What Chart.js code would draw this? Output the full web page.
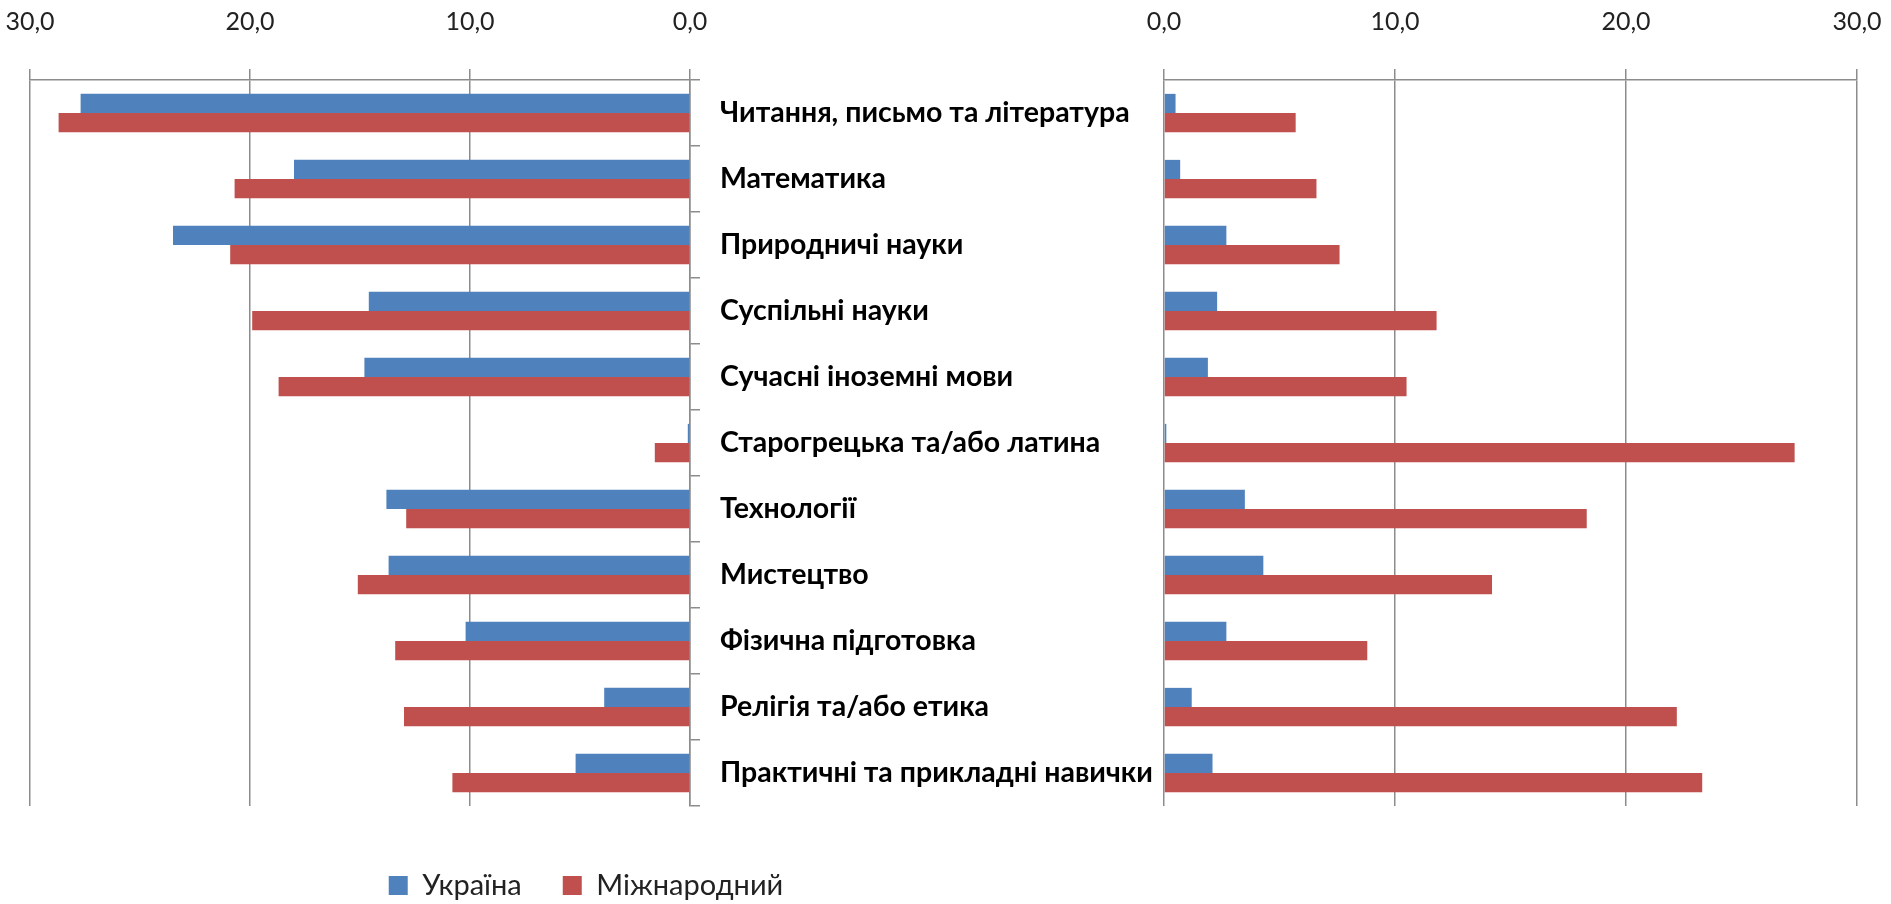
<!DOCTYPE html>
<html>
<head>
<meta charset="utf-8">
<title>Предмети: Україна та міжнародний показник</title>
<script src="https://cdn.jsdelivr.net/npm/chart.js@4.4.0/dist/chart.umd.min.js"></script>
<style>
  html, body { margin: 0; padding: 0; background: #fff; }
  #wrap { position: relative; width: 1891px; height: 904px; overflow: hidden; }
  #rightBox { position: absolute; left: 700px; top: 0; width: 1191px; height: 904px; }
  #leftBox { position: absolute; left: 0; top: 0; width: 1142px; height: 904px; }
</style>
</head>
<body>
<div id="wrap">
  <div id="rightBox"><canvas id="rightChart"></canvas></div>
  <div id="leftBox"><canvas id="leftChart"></canvas></div>
</div>
<script>
// Chart data
const subjects = [
  'Читання, письмо та література',
  'Математика',
  'Природничі науки',
  'Суспільні науки',
  'Сучасні іноземні мови',
  'Старогрецька та/або латина',
  'Технології',
  'Мистецтво',
  'Фізична підготовка',
  'Релігія та/або етика',
  'Практичні та прикладні навички'
];
const seriesNames = ['Україна', 'Міжнародний'];

// left panel
const ukraineLeft = [27.7, 18.0, 23.5, 14.6, 14.8, 0.1, 13.8, 13.7, 10.2, 3.9, 5.2];
const intlLeft = [28.7, 20.7, 20.9, 19.9, 18.7, 1.6, 12.9, 15.1, 13.4, 13.0, 10.8];

// right panel
const ukraineRight = [0.5, 0.7, 2.7, 2.3, 1.9, 0.1, 3.5, 4.3, 2.7, 1.2, 2.1];
const intlRight = [5.7, 6.6, 7.6, 11.8, 10.5, 27.3, 18.3, 14.2, 8.8, 22.2, 23.3];

const axisTicks = [0, 10, 20, 30];

// Styles
const BLUE = '#4F81BD';
const RED = '#C0504D';
const GRID = '#8c8c8c';
const FONT = 'Lato, "Liberation Sans Narrow", "Liberation Sans", sans-serif';

const fmt = v => v.toFixed(1).replace('.', ',');

function valueAxis(reverse) {
  return {
    position: 'top',
    reverse: reverse,
    min: 0,
    max: 30,
    afterBuildTicks: s => { s.ticks = axisTicks.map(v => ({ value: v })); },
    afterFit: s => {
      s.height = 80;
      // tick padding is vertical here, don't let it eat horizontal room
      s.paddingLeft = 0;
      s.paddingRight = 0;
    },
    ticks: {
      callback: v => fmt(v),
      font: { family: FONT, size: 25 },
      color: '#222',
      padding: 32,
      maxRotation: 0
    },
    grid: { color: GRID, lineWidth: 1.5, tickLength: 11 },
    border: { color: GRID, width: 1.5 }
  };
}

function makeDatasets(ua, intl) {
  return [
    { label: seriesNames[0], data: ua, backgroundColor: BLUE },
    { label: seriesNames[1], data: intl, backgroundColor: RED }
  ];
}

// pushes the legend down without shrinking the plot
const legendDrop = {
  id: 'legendDrop',
  afterLayout(chart, args, opts) {
    const lg = chart.legend;
    if (!lg) return;
    lg.top += opts.offset;
    lg.bottom += opts.offset;
  }
};

new Chart(document.getElementById('leftChart'), {
  type: 'bar',
  data: { labels: subjects, datasets: makeDatasets(ukraineLeft, intlLeft) },
  options: {
    indexAxis: 'y',
    responsive: true,
    maintainAspectRatio: false,
    animation: false,
    layout: { padding: { left: 30, right: 0, top: 0, bottom: 18 } },
    datasets: { bar: { categoryPercentage: 0.58, barPercentage: 1 } },
    scales: {
      x: valueAxis(true),
      y: {
        position: 'right',
        ticks: { display: false },
        grid: { drawOnChartArea: false, color: GRID, lineWidth: 1.5, tickLength: 10 },
        border: { color: GRID, width: 1.5 },
        afterFit: s => { s.width = 452; }
      }
    },
    plugins: {
      legend: {
        position: 'bottom',
        labels: {
          boxWidth: 19,
          boxHeight: 19,
          padding: 41,
          color: '#222',
          font: { family: FONT, size: 29 }
        }
      },
      legendDrop: { offset: 24 },
      tooltip: { enabled: false }
    }
  },
  plugins: [legendDrop]
});

new Chart(document.getElementById('rightChart'), {
  type: 'bar',
  data: { labels: subjects, datasets: makeDatasets(ukraineRight, intlRight) },
  options: {
    indexAxis: 'y',
    responsive: true,
    maintainAspectRatio: false,
    animation: false,
    layout: { padding: { left: 20, right: 34, top: 0, bottom: 98 } },
    datasets: { bar: { categoryPercentage: 0.58, barPercentage: 1 } },
    scales: {
      x: valueAxis(false),
      y: {
        position: 'left',
        ticks: {
          crossAlign: 'far',
          padding: 0,
          color: '#000',
          font: { family: FONT, size: 28.5, weight: 'bold' }
        },
        grid: { display: false },
        border: { display: false },
        afterFit: s => { s.width = 444; }
      }
    },
    plugins: {
      legend: { display: false },
      tooltip: { enabled: false }
    }
  }
});
</script>
</body>
</html>
